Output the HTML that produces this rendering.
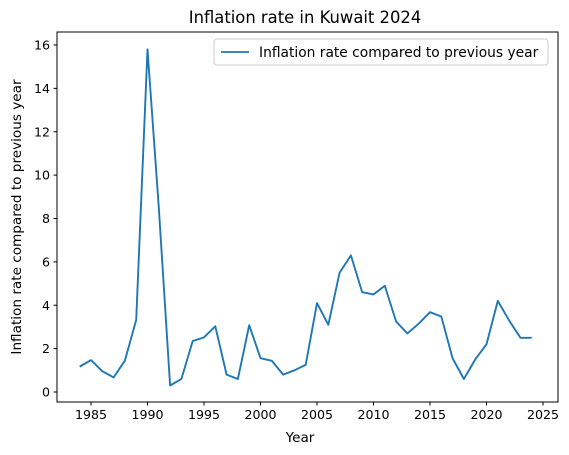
<!DOCTYPE html>
<html><head><meta charset="utf-8"><style>
body{margin:0;background:#fff;}
svg{display:block;font-family:"DejaVu Sans","Liberation Sans",sans-serif;}
</style></head><body>
<svg id="chart" width="569" height="455" viewBox="0 0 569 455">
<rect x="0" y="0" width="569" height="455" fill="#fff"/>
<text x="305" y="23" font-size="16.4" text-anchor="middle">Inflation rate in Kuwait 2024</text>
<g id="grid"></g>
<g id="series"></g>
<rect x="57" y="32" width="501" height="370" fill="none" stroke="#000" stroke-width="1"/>
<text x="300" y="442" font-size="13.6" text-anchor="middle">Year</text>
<text transform="translate(21,217) rotate(-90)" font-size="13.6" text-anchor="middle">Inflation rate compared to previous year</text>
<g>
<rect x="214" y="39" width="334" height="26" rx="3" fill="#fff" stroke="#ccc"/>
<line x1="221" y1="52" x2="249" y2="52" stroke="#1f77b4" stroke-width="1.8"/>
<text x="259" y="57" font-size="13.8">Inflation rate compared to previous year</text>
</g>
</svg>
<script>
const years=[1984,1985,1986,1987,1988,1989,1990,1991,1992,1993,1994,1995,1996,1997,1998,1999,2000,2001,2002,2003,2004,2005,2006,2007,2008,2009,2010,2011,2012,2013,2014,2015,2016,2017,2018,2019,2020,2021,2022,2023,2024];
const values=[1.17,1.47,0.96,0.67,1.45,3.32,15.8,8.5,0.3,0.6,2.35,2.52,3.03,0.8,0.6,3.08,1.56,1.44,0.8,1.0,1.25,4.1,3.1,5.5,6.3,4.6,4.5,4.9,3.25,2.7,3.15,3.68,3.48,1.55,0.6,1.5,2.2,4.2,3.3,2.5,2.5];
const xTicks=[1985,1990,1995,2000,2005,2010,2015,2020,2025];
const yTicks=[0,2,4,6,8,10,12,14,16];
const NS="http://www.w3.org/2000/svg";
function xs(v){return 91+(v-1985)*11.3;}
function ys(v){return 392-v*21.6875;}
const g=document.getElementById('grid');
xTicks.forEach(t=>{
  const l=document.createElementNS(NS,'line');
  l.setAttribute('x1',xs(t));l.setAttribute('x2',xs(t));l.setAttribute('y1',402);l.setAttribute('y2',405.5);l.setAttribute('stroke','#000');
  
  
  g.appendChild(l);
  const tx=document.createElementNS(NS,'text');
  tx.setAttribute('x',xs(t));tx.setAttribute('y',419);tx.setAttribute('font-size','12.6');tx.setAttribute('text-anchor','middle');
  tx.textContent=t;
  
  
  g.appendChild(tx);
});
yTicks.forEach(t=>{
  const l=document.createElementNS(NS,'line');
  l.setAttribute('x1',53.5);l.setAttribute('x2',57);l.setAttribute('y1',ys(t));l.setAttribute('y2',ys(t));l.setAttribute('stroke','#000');
  
  
  g.appendChild(l);
  const tx=document.createElementNS(NS,'text');
  tx.setAttribute('x',50);tx.setAttribute('y',ys(t)+4.5);tx.setAttribute('font-size','12.6');tx.setAttribute('text-anchor','end');
  tx.textContent=t;
  
  
  g.appendChild(tx);
});
const p=document.createElementNS(NS,'polyline');
p.setAttribute('points',years.map((y,i)=>xs(y)+','+ys(values[i])).join(' '));
p.setAttribute('fill','none');p.setAttribute('stroke','#1f77b4');p.setAttribute('stroke-width','1.9');p.setAttribute('stroke-linejoin','round');


document.getElementById('series').appendChild(p);
</script>
</body></html>
